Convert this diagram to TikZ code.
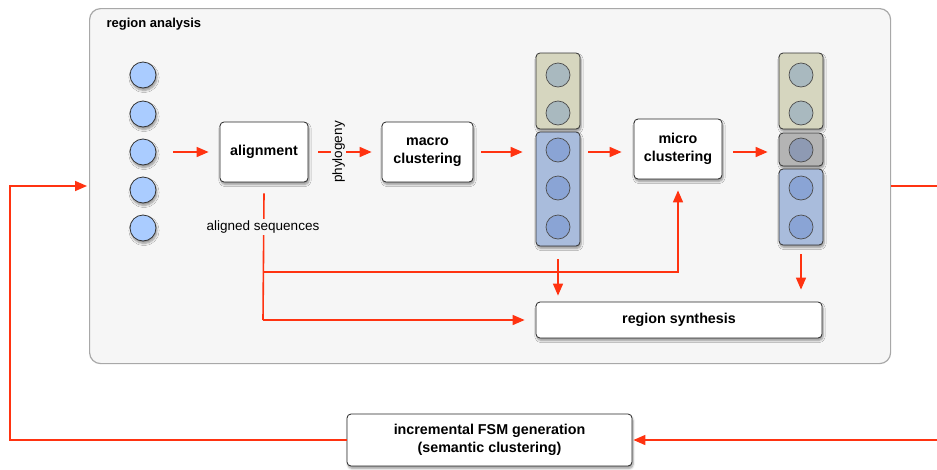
\documentclass[tikz,border=0pt]{standalone}
\usepackage{fontspec}
\setmainfont{Liberation Sans}
\usetikzlibrary{arrows.meta,shadows.blur}
\definecolor{flow}{HTML}{FF3311}
\definecolor{panel}{HTML}{F6F6F6}
\definecolor{panelrim}{HTML}{A8A8A8}
\definecolor{seqblue}{HTML}{AACCFF}
\definecolor{tanbox}{HTML}{D6D6BF}
\definecolor{tandot}{HTML}{A9B9BF}
\definecolor{bluebox}{HTML}{A9BCDC}
\definecolor{bluedot}{HTML}{8AA4D5}
\definecolor{greybox}{HTML}{B4B4B4}
\definecolor{greydot}{HTML}{8E9AB3}
\tikzset{
  shade/.style={blur shadow={shadow xshift=1pt,shadow yshift=-2.5pt,shadow blur steps=6,shadow opacity=40}},
  procbox/.style={draw=black!85,line width=0.8pt,fill=white,rounded corners=4pt,shade,
    align=center,font=\fontsize{14.3}{17.5}\selectfont\bfseries,inner sep=0pt},
  seqdot/.style={circle,draw=black!80,line width=0.8pt,fill=seqblue,minimum size=26pt,inner sep=0pt,shade},
  groupbox/.style={draw=black!80,line width=0.8pt,rounded corners=4pt,minimum width=44pt,inner sep=0pt,shade},
  cdot/.style={circle,draw=black!70,line width=0.7pt,minimum size=24pt,inner sep=0pt},
  arr/.style={draw=flow,line width=1.6pt,-{Triangle[length=12pt,width=10pt]}},
  wire/.style={draw=flow,line width=1.6pt},
  tag/.style={fill=panel,inner sep=1.5pt,font=\fontsize{13.5}{15}\selectfont}
}
\begin{document}
\begin{tikzpicture}[x=1pt,y=-1pt]
\useasboundingbox (0,0) rectangle (937,469);

% analysis panel
\node[draw=panelrim,line width=1.2pt,fill=panel,rounded corners=11pt,
      minimum width=801pt,minimum height=355pt,anchor=north west] (panel) at (89,8) {};
\node[anchor=west,font=\fontsize{13}{15}\selectfont\bfseries] (title) at (103,24) {region analysis};

% input sequences
\foreach \i/\yy in {1/75,2/114,3/152,4/190,5/228}
  \node[seqdot] (s\i) at (143,\yy) {};

% processing steps
\node[procbox,minimum width=88pt,minimum height=60pt] (align) at (264,152) {alignment};
\node[procbox,minimum width=91pt,minimum height=60pt] (macro) at (427.5,152) {macro\\clustering};
\node[procbox,minimum width=88pt,minimum height=60pt] (micro) at (678,149) {micro\\clustering};
\node[procbox,minimum width=286pt,minimum height=36pt] (synth) at (679,320) {region synthesis};
\node[procbox,minimum width=285pt,minimum height=52pt] (fsm) at (489.5,440) {incremental FSM generation\\(semantic clustering)};

% macro clusters
\node[groupbox,fill=tanbox,minimum height=76pt] (ma) at (558,91) {};
\node[groupbox,fill=bluebox,minimum height=114pt] (mb) at (558,189) {};
\foreach \i/\yy in {1/75,2/113}
  \node[cdot,fill=tandot] (ma\i) at (558,\yy) {};
\foreach \i/\yy in {1/150,2/188,3/227}
  \node[cdot,fill=bluedot] (mb\i) at (558,\yy) {};

% micro clusters
\node[groupbox,fill=tanbox,minimum height=76pt] (na) at (801,91) {};
\node[groupbox,fill=greybox,minimum height=33pt] (ng) at (801,149.5) {};
\node[groupbox,fill=bluebox,minimum height=76pt] (nb) at (801,207) {};
\foreach \i/\yy in {1/75,2/113}
  \node[cdot,fill=tandot] (na\i) at (801,\yy) {};
\node[cdot,fill=greydot] (ng1) at (801,150) {};
\foreach \i/\yy in {1/188,2/227}
  \node[cdot,fill=bluedot] (nb\i) at (801,\yy) {};

% main flow
\draw[arr] ([xshift=17pt]s3.east) -- ([xshift=-11pt]align.west);
\draw[arr] ([xshift=10pt]align.east) -- ([xshift=-10pt]macro.west)
  node[pos=0.38,rotate=90,tag] (phy) {phylogeny};
\draw[arr] ([xshift=8pt]macro.east) -- ([xshift=-13pt]mb.west|-macro.east);
\draw[arr] ([xshift=8pt]mb.east|-macro.east) -- ([xshift=-12pt]micro.west|-macro.east);
\draw[arr] ([xshift=11pt]micro.east|-macro.east) -- ([xshift=-11pt]ng.west|-macro.east);

% aligned sequences
\coordinate (fork1) at (263,272);
\coordinate (fork2) at (263,320);
\draw[wire] ([yshift=-11pt]align.south) -- (fork2);
\node[tag] (seqtag) at (263,227) {aligned sequences};
\draw[arr] (fork1) -| ([yshift=-11pt]micro.south);
\draw[arr] (fork2) -- ([xshift=-11pt]synth.west);
\draw[arr] ([yshift=-13pt]mb.south) -- ([yshift=6pt]synth.north-|mb.south);
\draw[arr] ([yshift=-9pt]nb.south) -- ([yshift=12pt]synth.north-|nb.south);

% feedback loop
\coordinate (outR) at (937,186);
\coordinate (inR) at (937,440);
\coordinate (loopL) at (10,440);
\draw[wire] (panel.east|-outR) -- (outR);
\draw[arr] (inR) -- ([xshift=1pt]fsm.east);
\draw[arr] (fsm.west) -- (loopL) |- ([xshift=-2pt]panel.west|-outR);
\end{tikzpicture}
\end{document}
